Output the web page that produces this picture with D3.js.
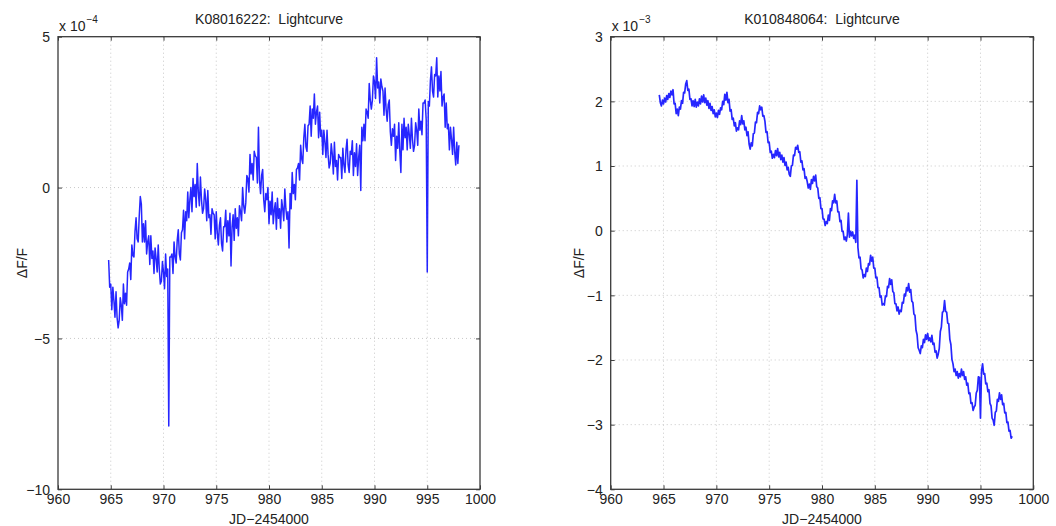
<!DOCTYPE html>
<html>
<head>
<meta charset="utf-8">
<script src="https://cdn.jsdelivr.net/npm/d3@7/dist/d3.min.js"></script>
<style>
  html, body { margin: 0; padding: 0; background: #fff; }
  svg { display: block; font-family: "Liberation Sans", Arial, Helvetica, sans-serif; }
  text { white-space: pre; }
</style>
</head>
<body>
<svg id="chart" width="1056" height="526"></svg>
<script>
// ---------------- DATA ----------------
const xTicks = [960, 965, 970, 975, 980, 985, 990, 995, 1000];

// Left panel: K08016222, dF/F in units of 1e-4, sampled every 0.1 d from JD-2454000 = 964.8
const leftTitle = "K08016222:  Lightcurve";
const leftExponent = "-4";
const leftYTicks = [-10, -5, 0, 5];
const leftStart = 964.8;
const leftStep = 0.1;
const leftValues = [
  -2.4, -3.3, -3.2, -4.05, -3.3, -3.75, -4.3, -3.45, -4.3, -4.65,
  -4.4, -3.65, -3.9, -4.4, -3.2, -3.85, -3.5, -3.9, -2.8, -2.7,
  -2.5, -3.05, -1.9, -2.25, -2.3, -1.45, -1.0, -1.7, -1.8, -0.95,
  -0.3, -0.55, -1.8, -1.2, -1.8, -1.1, -2.2, -1.8, -1.6, -2.55,
  -1.6, -2.35, -2.1, -2.85, -2.0, -2.35, -2.8, -1.9, -2.7, -3.2,
  -3.1, -2.45, -2.8, -3.35, -2.2, -2.95, -2.7, -7.9, -2.3, -2.3,
  -2.2, -2.85, -1.8, -2.3, -2.5, -1.75, -1.4, -2.2, -2.4, -1.5,
  -1.4, -0.75, -1.7, -0.8, -1.1, -0.15, -1.0, -0.4, 0.0, -0.8,
   0.3, -0.3, 0.1, -0.65, 0.8, -0.15, -0.6, 0.35, -0.4, -0.85,
  -0.7, -0.05, -0.4, -1.1, -0.1, -1.0, -0.9, -1.55, -0.7, -0.85,
  -0.9, -1.7, -0.8, -1.5, -1.9, -1.25, -1.0, -1.85, -2.1, -1.3,
  -1.3, -0.75, -1.8, -1.1, -1.6, -0.85, -2.6, -1.3, -0.9, -1.75,
  -0.7, -1.35, -1.0, -1.6, -0.6, -0.8, -1.1, 0.0, -0.6, -0.85,
  -0.5, 0.4, 0.3, -0.15, 1.1, 0.45, 0.8, 0.25, 1.2, 1.05,
   1.0, 0.15, 2.0, 0.25, -0.2, 0.4, 0.6, -0.4, -0.8, -0.2,
  -0.4, 0.0, -1.2, -0.45, -0.9, -0.15, -1.2, -0.75, -0.5, -1.38,
  -0.35, -1.02, -0.7, -1.35, -0.4, -0.7, -1.1, -0.05, -0.7, -1.05,
  -0.8, -2.0, -0.2, -0.7, 0.5, -0.2, 0.1, -0.4, 0.6, 0.65,
   0.8, 0.25, 1.4, 0.95, 0.8, 1.65, 2.1, 1.35, 1.2, 2.05,
   2.1, 2.7, 1.7, 2.6, 2.3, 3.1, 2.1, 2.5, 2.7, 1.65,
   2.5, 1.7, 1.9, 1.1, 1.9, 1.5, 1.0, 1.9, 1.1, 0.65,
   0.8, 1.45, 1.1, 0.45, 1.5, 0.7, 0.9, 0.25, 1.1, 1.0,
   1.0, 0.3, 1.3, 0.75, 0.5, 1.25, 1.6, 0.75, 0.5, 1.2,
   1.1, 1.55, 0.4, 1.15, 0.7, 1.45, 0.4, 1.0, 1.4, -0.1,
   2.0, 1.55, 2.1, 1.55, 2.6, 2.5, 2.3, 3.45, 2.9, 2.6,
   2.9, 3.7, 3.5, 2.95, 4.3, 3.3, 3.5, 2.8, 3.6, 3.35,
   3.2, 2.4, 3.3, 2.6, 2.2, 2.75, 2.9, 1.85, 1.4, 1.95,
   1.7, 2.1, 0.9, 1.7, 1.3, 2.15, 1.2, 0.5, 2.1, 1.25,
   2.3, 1.65, 2.0, 1.25, 2.1, 1.75, 1.3, 2.3, 1.6, 1.2,
   1.4, 2.15, 1.9, 1.4, 2.6, 1.9, 2.2, 1.75, 2.8, 2.8,
   2.9, 2.25, -2.8, 2.85, 2.7, 3.55, 4.0, 3.2, 3.0, 3.75,
   3.7, 4.3, 3.0, 3.7, 3.2, 3.85, 2.7, 3.0, 3.1, 2.0,
   2.8, 1.95, 2.1, 1.25, 2.0, 1.6, 1.1, 2.0, 1.2, 0.75,
   1.5, 0.8, 1.4
];

// Right panel: K010848064, dF/F in units of 1e-3, sampled every 0.1 d from JD-2454000 = 964.6
const rightTitle = "K010848064:  Lightcurve";
const rightExponent = "-3";
const rightYTicks = [-4, -3, -2, -1, 0, 1, 2, 3];
const rightStart = 964.6;
const rightStep = 0.1;
const rightValues = [
   2.10,  1.98,  1.93,  2.02,  1.96,  2.05,  1.99,  2.09,  2.03,  2.12,
   2.06,  2.16,  2.10,  2.18,  1.96,  1.97,  1.81,  1.88,  1.78,  1.91,
   1.88,  2.01,  1.97,  2.14,  2.13,  2.27,  2.32,  2.17,  2.19,  2.03,
   2.04,  1.93,  2.01,  1.92,  2.03,  1.91,  1.99,  1.93,  2.04,  1.96,
   2.08,  1.99,  2.10,  1.98,  2.05,  1.94,  2.01,  1.89,  1.97,  1.86,
   1.92,  1.81,  1.87,  1.76,  1.82,  1.75,  1.86,  1.80,  1.90,  1.87,
   2.00,  1.95,  2.11,  2.02,  2.14,  1.98,  2.03,  1.85,  1.87,  1.72,
   1.74,  1.62,  1.67,  1.54,  1.59,  1.56,  1.70,  1.64,  1.78,  1.65,
   1.70,  1.56,  1.60,  1.47,  1.53,  1.34,  1.26,  1.36,  1.31,  1.50,
   1.51,  1.68,  1.67,  1.83,  1.81,  1.93,  1.87,  1.91,  1.77,  1.78,
   1.69,  1.52,  1.53,  1.36,  1.37,  1.21,  1.23,  1.12,  1.18,  1.13,
   1.24,  1.16,  1.27,  1.14,  1.21,  1.10,  1.17,  1.06,  1.13,  1.01,
   1.06,  0.94,  0.98,  0.87,  0.84,  1.00,  1.01,  1.17,  1.16,  1.29,
   1.26,  1.32,  1.21,  1.22,  1.06,  1.08,  0.94,  0.96,  0.81,  0.83,
   0.76,  0.66,  0.72,  0.64,  0.79,  0.73,  0.84,  0.77,  0.86,  0.68,
   0.66,  0.50,  0.51,  0.34,  0.34,  0.18,  0.18,  0.08,  0.14,  0.11,
   0.24,  0.16,  0.34,  0.31,  0.46,  0.43,  0.56,  0.43,  0.46,  0.29,
   0.29,  0.14,  0.16, -0.01, -0.01, -0.14, -0.10, -0.16, -0.06,  0.27,
  -0.10, -0.01, -0.08, -0.02, -0.12, -0.07, -0.18,  0.78, -0.26, -0.42,
  -0.41, -0.59, -0.61, -0.73, -0.68, -0.71, -0.58, -0.63, -0.51, -0.53,
  -0.38, -0.47, -0.41, -0.58, -0.58, -0.73, -0.72, -0.88, -0.88, -1.03,
  -1.01, -1.15, -1.13, -1.15, -1.01, -1.02, -0.86, -0.88, -0.74, -0.83,
  -0.76, -0.94, -0.96, -1.13, -1.13, -1.24, -1.18, -1.29, -1.23, -1.25,
  -1.11, -1.12, -0.98, -1.01, -0.88, -0.93, -0.82, -0.95, -0.91, -1.09,
  -1.11, -1.29, -1.31, -1.54, -1.61, -1.81, -1.85, -1.90, -1.78, -1.81,
  -1.68, -1.73, -1.61, -1.68, -1.59, -1.70, -1.66, -1.72, -1.62, -1.76,
  -1.74, -1.88, -1.86, -1.97, -1.91, -1.82, -1.56, -1.49, -1.26, -1.25,
  -1.08, -1.25, -1.26, -1.43, -1.44, -1.68, -1.76, -1.99, -2.06, -2.18,
  -2.14, -2.24, -2.18, -2.28, -2.21, -2.26, -2.14, -2.24, -2.18, -2.30,
  -2.26, -2.39, -2.36, -2.52, -2.51, -2.67, -2.66, -2.78, -2.73, -2.70,
  -2.51, -2.47, -2.26, -2.27, -2.90, -2.17, -2.06, -2.22, -2.21, -2.37,
  -2.36, -2.49, -2.46, -2.67, -2.71, -2.90, -2.93, -3.01, -2.81, -2.79,
  -2.61, -2.64, -2.51, -2.61, -2.54, -2.69, -2.67, -2.82, -2.81, -2.97,
  -2.96, -3.10, -3.09, -3.21, -3.18
];

const xLabel = "JD\u22122454000";
const yLabel = "\u0394F/F";

// ---------------- DRAW ----------------
const svg = d3.select("#chart");
svg.append("rect").attr("width", 1056).attr("height", 526).attr("fill", "#fff");

function panel(opts) {
  const { left, right, top, bottom, title, exponent, yTicks, start, step, values, yLabelX, lineWidth } = opts;
  const x = d3.scaleLinear().domain([960, 1000]).range([left, right]);
  const y = d3.scaleLinear().domain([d3.min(yTicks), d3.max(yTicks)]).range([bottom, top]);
  const g = svg.append("g");

  // grid
  g.append("g").selectAll("line").data(xTicks.slice(1, -1)).join("line")
    .attr("x1", d => x(d)).attr("x2", d => x(d)).attr("y1", top).attr("y2", bottom)
    .attr("stroke", "#c8c8c8").attr("stroke-width", 1).attr("stroke-dasharray", "1,3");
  g.append("g").selectAll("line").data(yTicks.slice(1, -1)).join("line")
    .attr("x1", left).attr("x2", right).attr("y1", d => y(d)).attr("y2", d => y(d))
    .attr("stroke", "#c8c8c8").attr("stroke-width", 1).attr("stroke-dasharray", "1,3");

  // data line
  const pts = values.map((v, i) => [start + i * step, v]);
  const line = d3.line().x(d => x(d[0])).y(d => y(d[1]));
  g.append("path").datum(pts).attr("d", line)
    .attr("fill", "none").attr("stroke", "#0000ff").attr("stroke-width", lineWidth)
    .attr("stroke-opacity", 0.85).attr("stroke-linejoin", "round");

  // axes (MATLAB style: inward ticks on all sides)
  const tickLen = 4;
  const axB = g.append("g").attr("transform", `translate(0,${bottom})`)
    .call(d3.axisBottom(x).tickValues(xTicks).tickSize(-tickLen).tickPadding(8).tickFormat(d3.format("d")));
  const axT = g.append("g").attr("transform", `translate(0,${top})`)
    .call(d3.axisTop(x).tickValues(xTicks).tickSize(-tickLen).tickFormat(""));
  const axL = g.append("g").attr("transform", `translate(${left},0)`)
    .call(d3.axisLeft(y).tickValues(yTicks).tickSize(-tickLen).tickPadding(8).tickFormat(d3.format("d")));
  const axR = g.append("g").attr("transform", `translate(${right},0)`)
    .call(d3.axisRight(y).tickValues(yTicks).tickSize(-tickLen).tickFormat(""));
  [axB, axT, axL, axR].forEach(a => {
    a.select(".domain").remove();
    a.selectAll(".tick line").attr("stroke", "#404040").attr("stroke-width", 1);
    a.selectAll("text").attr("fill", "#222").attr("font-size", 14)
      .attr("font-family", "'Liberation Sans', Arial, sans-serif");
  });
  axB.selectAll("text").attr("dy", "0.5em");
  axL.selectAll("text").attr("dy", "0.35em");

  // frame
  g.append("rect").attr("x", left).attr("y", top).attr("width", right - left).attr("height", bottom - top)
    .attr("fill", "none").attr("stroke", "#3a3a3a").attr("stroke-width", 1.3);

  // title
  g.append("text").attr("x", (left + right) / 2).attr("y", 24).attr("text-anchor", "middle")
    .attr("font-size", 14).attr("fill", "#222").text(title);

  // exponent label "x 10^-n"
  const ex = g.append("text").attr("x", left + 1).attr("y", 31).attr("font-size", 14).attr("fill", "#222");
  ex.append("tspan").text("x 10");
  ex.append("tspan").attr("dy", -8).attr("dx", 1).attr("font-size", 10).text(exponent.replace("-", "\u2212"));

  // x label
  g.append("text").attr("x", (left + right) / 2).attr("y", 524).attr("text-anchor", "middle")
    .attr("font-size", 14).attr("fill", "#222").text(xLabel);

  // y label
  g.append("text").attr("transform", `translate(${yLabelX},${(top + bottom) / 2}) rotate(-90)`)
    .attr("text-anchor", "middle").attr("font-size", 14).attr("fill", "#222").text(yLabel);
}

panel({ left: 58, right: 480, top: 36.7, bottom: 489.3, title: leftTitle, exponent: leftExponent,
        yTicks: leftYTicks, start: leftStart, step: leftStep, values: leftValues, yLabelX: 27, lineWidth: 1.5 });
panel({ left: 610.7, right: 1033.3, top: 36.7, bottom: 489.3, title: rightTitle, exponent: rightExponent,
        yTicks: rightYTicks, start: rightStart, step: rightStep, values: rightValues, yLabelX: 584, lineWidth: 1.7 });
</script>
</body>
</html>
